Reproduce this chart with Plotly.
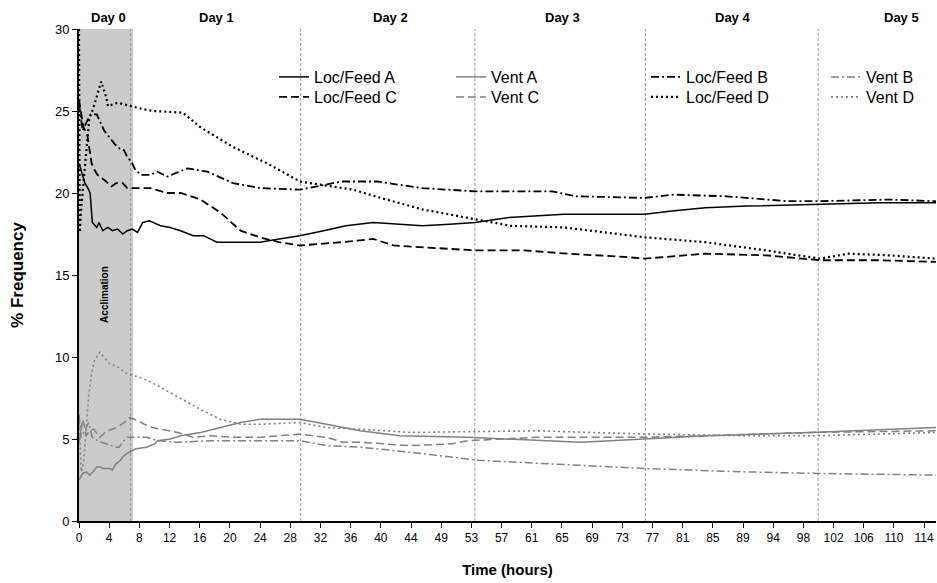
import plotly.graph_objects as go

# ---------------- data (hours, % frequency) ----------------
locA_h = [0, 0.5, 0.8, 1.2, 1.5, 1.8, 2.4, 2.7, 3.2, 3.9, 4.5, 5.2, 5.9, 6.5, 7.2, 7.9, 8.6, 9.5, 11, 12.3,
          13.7, 15.4, 16.8, 18.6, 20.8, 24.4, 27, 29.8, 33, 36, 39.7, 43, 46.3, 50, 53.4, 58, 65.4, 70, 76.3,
          80, 84.5, 90, 99.9, 108, 115.6]
locA_v = [21.8, 21.0, 20.6, 20.3, 20.0, 18.2, 17.9, 18.2, 17.7, 17.9, 17.7, 17.8, 17.5, 17.7, 17.8, 17.6, 18.2,
          18.3, 18.0, 17.9, 17.7, 17.4, 17.4, 17.0, 17.0, 17.0, 17.2, 17.4, 17.7, 18.0, 18.2, 18.1, 18.0, 18.1,
          18.2, 18.5, 18.7, 18.7, 18.7, 18.9, 19.1, 19.2, 19.3, 19.4, 19.4]

locB_h = [0, 0.5, 1.0, 1.6, 2.4, 3.4, 4.1, 4.8, 5.5, 6.1, 6.5, 7.2, 7.6, 8.4, 9.6, 10.6, 11.9, 14.6, 17.3,
          20.8, 24.4, 29.8, 35.4, 40.2, 46.3, 53.4, 63.8, 67, 76.3, 80.2, 87.3, 95.6, 99.9, 109.2, 115.6]
locB_v = [25.4, 23.8, 24.3, 24.8, 24.8, 23.8, 23.4, 23.0, 22.7, 22.6, 22.2, 21.8, 21.4, 21.1, 21.1, 21.3, 21.0,
          21.5, 21.3, 20.6, 20.3, 20.2, 20.7, 20.7, 20.3, 20.1, 20.1, 19.8, 19.7, 19.9, 19.8, 19.5, 19.5, 19.6,
          19.5]

locC_h = [0, 0.6, 1.1, 1.4, 1.7, 2.1, 2.5, 3.4, 4.4, 5.0, 5.9, 6.5, 7.5, 8.5, 9.6, 11.9, 13.7, 16.4, 19.1,
          21.8, 24.4, 27, 29.8, 35.4, 39.7, 42.4, 46, 53.4, 60, 66, 73.6, 76.3, 84.5, 92.7, 99.9, 108, 115.6]
locC_v = [25.7, 24.0, 23.6, 22.8, 21.8, 21.4, 21.1, 20.8, 20.4, 20.6, 20.6, 20.3, 20.3, 20.3, 20.3, 20.0, 20.0,
          19.6, 18.8, 17.7, 17.3, 17.0, 16.8, 17.0, 17.2, 16.8, 16.7, 16.5, 16.5, 16.3, 16.1, 16.0, 16.3, 16.2,
          15.9, 15.9, 15.8]

locD_h = [0, 0.1, 0.3, 1.0, 1.2, 1.4, 1.8, 2.3, 3.0, 3.7, 3.9, 5.2, 6.1, 7.5, 8.8, 10, 14, 16.4, 20.8, 25.4,
          29.8, 37, 40.7, 46.3, 53.4, 58.2, 65.4, 76.3, 84.5, 92.7, 99.9, 103.8, 109.2, 115.6]
locD_v = [30.0, 17.6, 19.1, 22.4, 23.6, 24.6, 25.0, 25.8, 26.8, 25.8, 25.3, 25.5, 25.4, 25.2, 25.1, 25.0, 24.9,
          24.0, 22.8, 21.8, 20.7, 20.2, 19.7, 19.0, 18.4, 18.0, 17.9, 17.3, 17.0, 16.5, 16.0, 16.3, 16.2, 16.0]

ventA_h = [0, 0.5, 1.0, 1.4, 1.9, 2.4, 2.9, 3.2, 4.2, 4.5, 5.0, 5.6, 6.1, 6.8, 7.7, 9.1, 10.2, 10.6, 12.3,
           13.7, 16.4, 19.1, 21.8, 24.4, 29.8, 33.4, 37.9, 43.3, 52.5, 67.7, 76.4, 84.8, 98.6, 115.6]
ventA_v = [2.5, 2.9, 3.0, 2.8, 3.0, 3.3, 3.3, 3.2, 3.2, 3.1, 3.5, 3.7, 4.0, 4.2, 4.4, 4.5, 4.7, 4.9, 5.0, 5.2,
           5.4, 5.7, 6.0, 6.2, 6.2, 5.9, 5.5, 5.2, 5.1, 4.8, 5.0, 5.2, 5.4, 5.7]

ventB_h = [0, 0.3, 1.0, 1.3, 1.8, 2.5, 3.7, 5.0, 5.4, 6.4, 7.5, 9.1, 10.6, 13.3, 18, 24.4, 29.8, 33.4, 37.9,
           44.6, 53.9, 67.3, 76.4, 89.4, 99.6, 115.6]
ventB_v = [6.5, 5.1, 5.7, 6.0, 5.1, 4.9, 4.7, 4.5, 4.5, 5.1, 5.1, 5.1, 4.9, 4.8, 4.9, 4.9, 4.9, 4.6, 4.5, 4.2,
           3.7, 3.4, 3.2, 3.0, 2.9, 2.8]

ventC_h = [0, 0.5, 1.0, 1.4, 2.0, 2.8, 3.8, 5.1, 6.1, 6.8, 7.5, 8.8, 9.9, 13.3, 15.4, 17.7, 20.8, 24.4, 29.8,
           33.4, 35.6, 37.9, 44.6, 50.2, 52.5, 61.7, 75.6, 84.8, 98.6, 115.6]
ventC_v = [4.8, 6.2, 5.2, 5.5, 5.6, 5.1, 5.5, 5.7, 6.0, 6.3, 6.2, 5.9, 5.7, 5.4, 5.1, 5.2, 5.1, 5.1, 5.3, 5.1,
           4.8, 4.8, 4.6, 4.7, 4.9, 5.1, 5.1, 5.2, 5.4, 5.5]

ventD_h = [0, 0.3, 0.6, 1.0, 1.3, 1.7, 2.1, 2.8, 3.4, 4.1, 5.2, 6.4, 7.2, 9.1, 10.0, 13.3, 16.4, 19.1, 21.8,
           24.4, 29.8, 33.4, 37.9, 44.6, 61.7, 76.4, 89.4, 99.6, 115.6]
ventD_v = [6.3, 3.0, 3.5, 6.0, 7.6, 9.0, 9.8, 10.3, 10.0, 9.6, 9.4, 9.0, 8.9, 8.6, 8.4, 7.6, 6.8, 6.2, 5.9,
           5.9, 6.0, 5.7, 5.6, 5.4, 5.5, 5.3, 5.2, 5.2, 5.4]

tick_labels = ["0", "4", "8", "12", "16", "20", "24", "28", "32", "36", "40", "44", "49", "53", "57", "61",
               "65", "69", "73", "77", "81", "85", "89", "94", "98", "102", "106", "110", "114"]
tick_max_hour = 114

day_labels = ["Day 0", "Day 1", "Day 2", "Day 3", "Day 4", "Day 5"]
day_label_hours = [4.0, 18.5, 42.0, 65.2, 88.2, 111.0]
day_boundaries = [6.95, 29.9, 53.4, 76.4, 99.7]
acclimation_end = 7.3

# ---------------- figure ----------------
BLACK = "#000000"
GRAY = "#808080"
DASH_SOLID = "solid"
DASH_DASH = "8px,4px"
DASH_DASHDOT = "8px,3px,2px,3px"
DASH_DOT = "2px,3px"

# (name, x, y, colour, dash, width, legend column, legend row)
series = [
    ("Loc/Feed A", locA_h, locA_v, BLACK, DASH_SOLID, 1.5, 0, 0),
    ("Vent A", ventA_h, ventA_v, GRAY, DASH_SOLID, 1.5, 1, 0),
    ("Loc/Feed B", locB_h, locB_v, BLACK, DASH_DASHDOT, 1.8, 2, 0),
    ("Vent B", ventB_h, ventB_v, GRAY, DASH_DASHDOT, 1.5, 3, 0),
    ("Loc/Feed C", locC_h, locC_v, BLACK, DASH_DASH, 1.8, 0, 1),
    ("Vent C", ventC_h, ventC_v, GRAY, DASH_DASH, 1.5, 1, 1),
    ("Loc/Feed D", locD_h, locD_v, BLACK, DASH_DOT, 2.2, 2, 1),
    ("Vent D", ventD_h, ventD_v, GRAY, DASH_DOT, 1.6, 3, 1),
]

FONT = "Liberation Sans, Arial, sans-serif"

W, H = 937, 583
L, R, T, B = 79, 1, 29, 62
pw, ph = W - L - R, H - T - B


def px_x(p):
    return (p - L) / pw


def px_y(p):
    return (H - B - p) / ph


legend_cols_px = [274, 451, 646, 826]
legend_rows_px = [60, 80]

fig = go.Figure()
layout_legends = {}
for i, (name, hx, vy, col, dash, w, lc, lr) in enumerate(series):
    key = "legend" if i == 0 else "legend%d" % (i + 1)
    fig.add_trace(go.Scatter(x=hx, y=vy, mode="lines", name=name,
                             line=dict(color=col, dash=dash, width=w), legend=key))
    layout_legends[key] = dict(x=px_x(legend_cols_px[lc]), y=px_y(legend_rows_px[lr]),
                               orientation="v", xanchor="left", yanchor="top",
                               bgcolor="rgba(0,0,0,0)", borderwidth=0,
                               font=dict(size=16, family=FONT, color="black"), itemwidth=30)

# acclimation band
fig.add_shape(type="rect", xref="x", yref="y", x0=0, x1=acclimation_end, y0=0, y1=30,
              fillcolor="#cbcbcb", line=dict(width=0), layer="below")
for b in day_boundaries:
    fig.add_shape(type="line", xref="x", yref="y", x0=b, x1=b, y0=0, y1=30,
                  line=dict(color="#9a9a9a", width=1, dash="3px,2px"), layer="below")

for lbl, h in zip(day_labels, day_label_hours):
    fig.add_annotation(x=h, y=1, xref="x", yref="paper", yanchor="bottom", text="<b>%s</b>" % lbl,
                       showarrow=False, font=dict(size=13, color="black", family=FONT), yshift=2)

fig.add_annotation(x=3.4, y=13.8, xref="x", yref="y", text="<b>Acclimation</b>", textangle=-90,
                   showarrow=False, font=dict(size=10, color="black", family=FONT))

n_ticks = len(tick_labels)
tickvals = [i * tick_max_hour / (n_ticks - 1) for i in range(n_ticks)]

fig.update_layout(
    width=W, height=H,
    margin=dict(l=L, r=R, t=T, b=B, autoexpand=False),
    plot_bgcolor="white", paper_bgcolor="white",
    font=dict(family=FONT, color="black"),
    xaxis=dict(range=[0, 115.6], tickvals=tickvals, ticktext=tick_labels, showgrid=False, zeroline=False,
               showline=True, linecolor="black", linewidth=1.5, ticks="outside", ticklen=5,
               tickcolor="black", tickfont=dict(size=12, family=FONT), automargin=False,
               title=dict(text="<b>Time (hours)</b>", font=dict(size=15, family=FONT), standoff=20)),
    yaxis=dict(range=[0, 30], dtick=5, showgrid=False, zeroline=False, showline=True, linecolor="black",
               linewidth=2, ticks="outside", ticklen=5, tickcolor="black", automargin=False,
               tickfont=dict(size=13, family=FONT),
               title=dict(text="<b>% Frequency</b>", font=dict(size=17, family=FONT), standoff=27)),
    showlegend=True,
    **layout_legends,
)

fig.write_html("out.html", config={"displayModeBar": False},
               post_script="document.body.style.margin='0';document.body.style.overflow='hidden';")
